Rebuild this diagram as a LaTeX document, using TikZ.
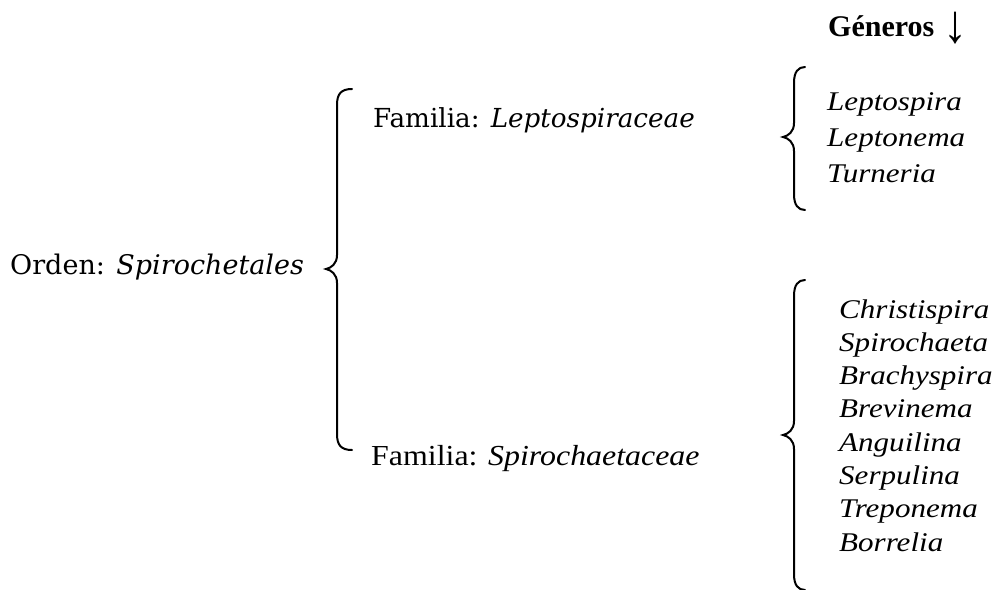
\documentclass[tikz,border=0pt]{standalone}
\usepackage{fontspec}
\setmainfont{Liberation Serif}
\newfontfamily\camfont{DejaVu Serif}
\usepackage{graphicx}

% curly brace opening to the right: end x, line x, tip x, top y, tip y, bottom y
\newcommand\wordbrace[6]{%
  \draw[bracestroke] (#1,#4) .. controls ({#2+4},#4) and (#2,{#4+5}) .. (#2,{#4+16})
    -- (#2,{#5-14}) .. controls (#2,{#5-5}) and ({#3+5},{#5-1}) .. (#3,#5)
    .. controls ({#3+5},{#5+1}) and (#2,{#5+5}) .. (#2,{#5+14})
    -- (#2,{#6-16}) .. controls (#2,{#6-5}) and ({#2+4},#6) .. (#1,#6);}

\tikzset{
  bracestroke/.style={line width=2pt, line cap=round},
  camtext/.style={anchor=base west, inner sep=0pt, font=\camfont\fontsize{27}{32}\selectfont},
  famtext/.style={anchor=base west, inner sep=0pt, font=\camfont\fontsize{26.2}{32}\selectfont},
  romtext/.style={anchor=base west, inner sep=0pt, font=\fontsize{29}{34}\selectfont},
  genus/.style={anchor=base west, inner sep=0pt, font=\fontsize{27}{33}\selectfont\itshape},
  head/.style={anchor=base west, inner sep=0pt, font=\fontsize{30}{34}\selectfont\bfseries},
}
\newcommand\wide[1]{\scalebox{1.15}[1]{#1}}

\begin{document}
\begin{tikzpicture}[x=1pt,y=-1pt]
\useasboundingbox (0,0) rectangle (1001,589);

% order
\node[camtext] (orden) at (10,274) {Orden: \textit{Spirochetales}};
\wordbrace{352}{337}{326}{89}{269}{450}

% families
\node[famtext] (lepto) at (373,127) {Familia: \textit{Leptospiraceae}};
\node[romtext] (spiro) at (371,465) {\scalebox{1.1}[1]{Familia: \textit{Spirochaetaceae}}};

% genera heading
\node[head] (gen) at (828,36) {Géneros\hspace{0.3em}\raisebox{-0.22em}{\scalebox{1.6}[1.8]{\mdseries ↓}}};

% genera of Leptospiraceae
\wordbrace{805}{794}{783}{67}{137}{210}
\node[genus] (g1) at (827,110) {\wide{Leptospira}};
\node[genus] (g2) at (827,146) {\wide{Leptonema}};
\node[genus] (g3) at (827,182) {\wide{Turneria}};

% genera of Spirochaetaceae
\wordbrace{805}{794}{783}{280}{435}{590}
\node[genus] (h1) at (839,318) {\wide{Christispira}};
\node[genus] (h2) at (839,351) {\wide{Spirochaeta}};
\node[genus] (h3) at (839,384) {\wide{Brachyspira}};
\node[genus] (h4) at (839,417) {\wide{Brevinema}};
\node[genus] (h5) at (839,451) {\wide{Anguilina}};
\node[genus] (h6) at (839,484) {\wide{Serpulina}};
\node[genus] (h7) at (839,517) {\wide{Treponema}};
\node[genus] (h8) at (839,551) {\wide{Borrelia}};
\end{tikzpicture}
\end{document}
